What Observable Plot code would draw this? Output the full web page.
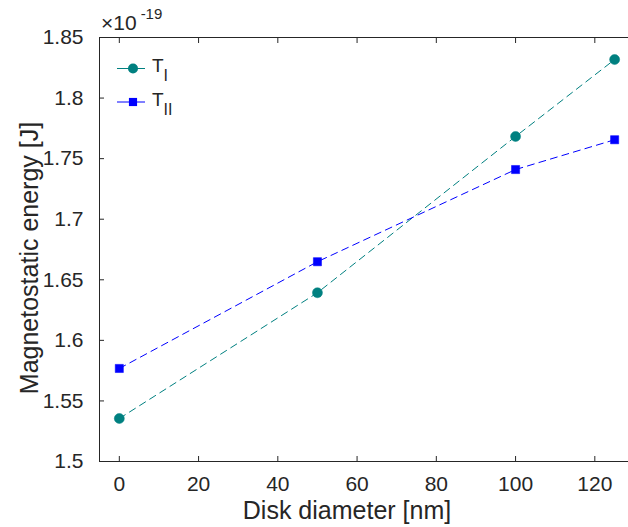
<!DOCTYPE html>
<html><head><meta charset="utf-8">
<script src="https://cdn.jsdelivr.net/npm/d3@7"></script>
<script src="https://cdn.jsdelivr.net/npm/@observablehq/plot@0.6"></script>
<style>
body{margin:0;background:#fff;}
#chart{position:relative;width:628px;height:527px;}
svg{font-family:"Liberation Sans",Arial,Helvetica,sans-serif;}
</style></head><body><div id="chart"></div>
<script>
// ---- data ----
const diameters = [0, 50, 100, 125];
const energyTI = [1.5355, 1.6393, 1.7683, 1.8318];
const energyTII = [1.5768, 1.6649, 1.7410, 1.7656];
const xTicks = [0, 20, 40, 60, 80, 100, 120];
const yTicks = [1.5, 1.55, 1.6, 1.65, 1.7, 1.75, 1.8, 1.85];
const yTickLabels = ["1.5", "1.55", "1.6", "1.65", "1.7", "1.75", "1.8", "1.85"];
const xDomain = [-5, 128.5];
const yDomain = [1.5, 1.85];
const xLabel = "Disk diameter [nm]";
const yLabel = "Magnetostatic energy [J]";

const teal = "#008080", blue = "#0000ff", ink = "#262626";
const rowsI = diameters.map((d, i) => ({d, e: energyTI[i]}));
const rowsII = diameters.map((d, i) => ({d, e: energyTII[i]}));

const W = 628, H = 527, mL = 99, mT = 37, mB = 66, mR = 0;

const chart = Plot.plot({
  width: W, height: H,
  marginLeft: mL, marginTop: mT, marginBottom: mB, marginRight: mR,
  style: {fontFamily: '"Liberation Sans", Arial, Helvetica, sans-serif', color: ink, background: "#fff"},
  x: {domain: xDomain},
  y: {domain: yDomain},
  marks: [
    Plot.ruleX([xDomain[0]], {stroke: ink, strokeWidth: 1}),
    Plot.ruleY([yDomain[0], yDomain[1]], {stroke: ink, strokeWidth: 1}),
    Plot.axisX(xTicks, {anchor: "bottom", tickSize: -5, tickPadding: 20, fontSize: 21, label: null, stroke: ink, fill: ink}),
    Plot.axisX(xTicks, {anchor: "top", tickSize: -5, tickFormat: () => "", label: null, stroke: ink}),
    Plot.axisY(yTicks, {anchor: "left", tickSize: -5, tickPadding: 21, fontSize: 21, label: null, stroke: ink, fill: ink,
      tickFormat: d => yTickLabels[yTicks.indexOf(d)]}),
    Plot.line(rowsI, {x: "d", y: "e", stroke: teal, strokeWidth: 1, strokeDasharray: "7,5"}),
    Plot.line(rowsII, {x: "d", y: "e", stroke: blue, strokeWidth: 1, strokeDasharray: "7,5"}),
    Plot.dot(rowsI, {x: "d", y: "e", r: 5, fill: teal, stroke: teal, strokeWidth: 0.5}),
    Plot.dot(rowsII, {x: "d", y: "e", r: 4.6, symbol: "square", fill: blue, stroke: blue, strokeWidth: 0.5})
  ]
});
document.getElementById("chart").appendChild(chart);

const svg = d3.select(chart);
const font = '"Liberation Sans", Arial, Helvetica, sans-serif';
// axis labels
svg.append("text").attr("x", 347).attr("y", 519).attr("text-anchor", "middle")
  .attr("font-size", 25).attr("fill", ink).attr("font-family", font).text(xLabel);
svg.append("text").attr("transform", "translate(38,258) rotate(-90)").attr("text-anchor", "middle")
  .attr("font-size", 25).attr("fill", ink).attr("font-family", font).text(yLabel);
// exponent
const ex = svg.append("text").attr("x", 101).attr("y", 30).attr("text-anchor", "start")
  .attr("font-size", 21).attr("fill", ink).attr("font-family", font);
ex.append("tspan").text("×10");
ex.append("tspan").attr("dx", 4).attr("dy", -11).attr("font-size", 15).text("-19");
// legend
const leg = [
  {name: "T", sub: "I", color: teal, symbol: d3.symbolCircle, size: Math.PI * 25, y: 68.5},
  {name: "T", sub: "II", color: blue, symbol: d3.symbolSquare, size: Math.PI * 4.6 * 4.6, y: 102}
];
for (const l of leg) {
  svg.append("line").attr("x1", 117).attr("x2", 145).attr("y1", l.y).attr("y2", l.y)
    .attr("stroke", l.color).attr("stroke-width", 1);
  svg.append("path").attr("d", d3.symbol(l.symbol, l.size)()).attr("transform", `translate(133,${l.y})`)
    .attr("fill", l.color);
  const t = svg.append("text").attr("x", 152).attr("y", l.y + 3.5).attr("text-anchor", "start")
    .attr("font-size", 19).attr("fill", ink).attr("font-family", font);
  t.append("tspan").text(l.name);
  t.append("tspan").attr("dy", 9).attr("font-size", 16).text(l.sub);
}
</script></body></html>
